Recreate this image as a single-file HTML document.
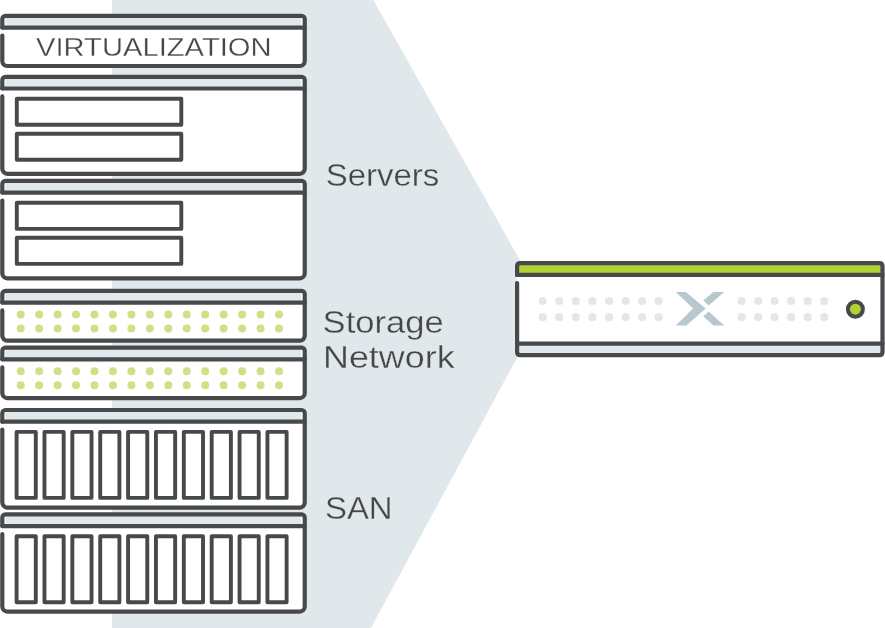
<!DOCTYPE html>
<html><head><meta charset="utf-8"><title>Infrastructure</title>
<style>html,body{margin:0;padding:0;background:#fff}body{width:885px;height:628px;overflow:hidden}svg{display:block}text{font-family:"Liberation Sans",sans-serif;fill:#454648}.s{fill:none;stroke:#48494b;stroke-width:4.2;stroke-linecap:round;stroke-linejoin:round}.i{stroke-width:3.9}</style></head><body>
<svg style="will-change:transform" width="885" height="628" viewBox="0 0 885 628">
<rect width="885" height="628" fill="#fff"/>
<polygon points="112,0 373.4,0 520,260.3 520,352.2 371,628 112,628" fill="#e1e8ec"/>
<rect x="2.3" y="15.9" width="302.4" height="50.1" rx="3.2" fill="#fff"/>
<rect x="5.5" y="16.9" width="295.6" height="10.7" fill="#e1e8ec"/>
<path class="s" d="M2.30 27.60 V19.10 A3.2 3.2 0 0 1 5.50 15.90 H301.55 A3.2 3.2 0 0 1 304.75 19.10 V61.00 A5.0 5.0 0 0 1 299.75 66.00 H7.30 A5.0 5.0 0 0 1 2.30 61.00 V35.50"/>
<path class="s" d="M2.3 27.6 H304.8"/>
<text x="36" y="56.4" font-size="26" textLength="235.6" lengthAdjust="spacingAndGlyphs" stroke="#fff" stroke-width="0.3">VIRTUALIZATION</text>
<rect x="2.3" y="76.8" width="302.4" height="97.0" rx="3.2" fill="#fff"/>
<rect x="5.5" y="77.8" width="295.6" height="10.7" fill="#e1e8ec"/>
<path class="s" d="M2.30 88.50 V80.00 A3.2 3.2 0 0 1 5.50 76.80 H301.55 A3.2 3.2 0 0 1 304.75 80.00 V168.80 A5.0 5.0 0 0 1 299.75 173.80 H7.30 A5.0 5.0 0 0 1 2.30 168.80 V96.40"/>
<path class="s" d="M2.3 88.5 H304.8"/>
<rect class="s i" x="16.8" y="98.7" width="164.5" height="26.1"/>
<rect class="s i" x="16.8" y="133.7" width="164.5" height="26.1"/>
<rect x="2.3" y="180.9" width="302.4" height="97.4" rx="3.2" fill="#fff"/>
<rect x="5.5" y="181.9" width="295.6" height="10.7" fill="#e1e8ec"/>
<path class="s" d="M2.30 192.60 V184.10 A3.2 3.2 0 0 1 5.50 180.90 H301.55 A3.2 3.2 0 0 1 304.75 184.10 V273.30 A5.0 5.0 0 0 1 299.75 278.30 H7.30 A5.0 5.0 0 0 1 2.30 273.30 V200.50"/>
<path class="s" d="M2.3 192.6 H304.8"/>
<rect class="s i" x="16.8" y="202.8" width="164.5" height="26.1"/>
<rect class="s i" x="16.8" y="237.8" width="164.5" height="26.1"/>
<rect x="2.3" y="290.9" width="302.4" height="49.8" rx="3.2" fill="#fff"/>
<rect x="5.5" y="291.9" width="295.6" height="10.7" fill="#e1e8ec"/>
<path class="s" d="M2.30 302.55 V294.05 A3.2 3.2 0 0 1 5.50 290.85 H301.55 A3.2 3.2 0 0 1 304.75 294.05 V335.70 A5.0 5.0 0 0 1 299.75 340.70 H7.30 A5.0 5.0 0 0 1 2.30 335.70 V310.45"/>
<path class="s" d="M2.3 302.6 H304.8"/>
<circle cx="20.70" cy="314.4" r="4" fill="#cfe186"/>
<circle cx="39.15" cy="314.4" r="4" fill="#cfe186"/>
<circle cx="57.60" cy="314.4" r="4" fill="#cfe186"/>
<circle cx="76.05" cy="314.4" r="4" fill="#cfe186"/>
<circle cx="94.50" cy="314.4" r="4" fill="#cfe186"/>
<circle cx="112.95" cy="314.4" r="4" fill="#cfe186"/>
<circle cx="131.40" cy="314.4" r="4" fill="#cfe186"/>
<circle cx="149.85" cy="314.4" r="4" fill="#cfe186"/>
<circle cx="168.30" cy="314.4" r="4" fill="#cfe186"/>
<circle cx="186.75" cy="314.4" r="4" fill="#cfe186"/>
<circle cx="205.20" cy="314.4" r="4" fill="#cfe186"/>
<circle cx="223.65" cy="314.4" r="4" fill="#cfe186"/>
<circle cx="242.10" cy="314.4" r="4" fill="#cfe186"/>
<circle cx="260.55" cy="314.4" r="4" fill="#cfe186"/>
<circle cx="279.00" cy="314.4" r="4" fill="#cfe186"/>
<circle cx="20.70" cy="328.4" r="4" fill="#cfe186"/>
<circle cx="39.15" cy="328.4" r="4" fill="#cfe186"/>
<circle cx="57.60" cy="328.4" r="4" fill="#cfe186"/>
<circle cx="76.05" cy="328.4" r="4" fill="#cfe186"/>
<circle cx="94.50" cy="328.4" r="4" fill="#cfe186"/>
<circle cx="112.95" cy="328.4" r="4" fill="#cfe186"/>
<circle cx="131.40" cy="328.4" r="4" fill="#cfe186"/>
<circle cx="149.85" cy="328.4" r="4" fill="#cfe186"/>
<circle cx="168.30" cy="328.4" r="4" fill="#cfe186"/>
<circle cx="186.75" cy="328.4" r="4" fill="#cfe186"/>
<circle cx="205.20" cy="328.4" r="4" fill="#cfe186"/>
<circle cx="223.65" cy="328.4" r="4" fill="#cfe186"/>
<circle cx="242.10" cy="328.4" r="4" fill="#cfe186"/>
<circle cx="260.55" cy="328.4" r="4" fill="#cfe186"/>
<circle cx="279.00" cy="328.4" r="4" fill="#cfe186"/>
<rect x="2.3" y="347.6" width="302.4" height="50.5" rx="3.2" fill="#fff"/>
<rect x="5.5" y="348.6" width="295.6" height="10.7" fill="#e1e8ec"/>
<path class="s" d="M2.30 359.35 V350.85 A3.2 3.2 0 0 1 5.50 347.65 H301.55 A3.2 3.2 0 0 1 304.75 350.85 V393.10 A5.0 5.0 0 0 1 299.75 398.10 H7.30 A5.0 5.0 0 0 1 2.30 393.10 V367.25"/>
<path class="s" d="M2.3 359.3 H304.8"/>
<circle cx="20.70" cy="371.2" r="4" fill="#cfe186"/>
<circle cx="39.15" cy="371.2" r="4" fill="#cfe186"/>
<circle cx="57.60" cy="371.2" r="4" fill="#cfe186"/>
<circle cx="76.05" cy="371.2" r="4" fill="#cfe186"/>
<circle cx="94.50" cy="371.2" r="4" fill="#cfe186"/>
<circle cx="112.95" cy="371.2" r="4" fill="#cfe186"/>
<circle cx="131.40" cy="371.2" r="4" fill="#cfe186"/>
<circle cx="149.85" cy="371.2" r="4" fill="#cfe186"/>
<circle cx="168.30" cy="371.2" r="4" fill="#cfe186"/>
<circle cx="186.75" cy="371.2" r="4" fill="#cfe186"/>
<circle cx="205.20" cy="371.2" r="4" fill="#cfe186"/>
<circle cx="223.65" cy="371.2" r="4" fill="#cfe186"/>
<circle cx="242.10" cy="371.2" r="4" fill="#cfe186"/>
<circle cx="260.55" cy="371.2" r="4" fill="#cfe186"/>
<circle cx="279.00" cy="371.2" r="4" fill="#cfe186"/>
<circle cx="20.70" cy="385.2" r="4" fill="#cfe186"/>
<circle cx="39.15" cy="385.2" r="4" fill="#cfe186"/>
<circle cx="57.60" cy="385.2" r="4" fill="#cfe186"/>
<circle cx="76.05" cy="385.2" r="4" fill="#cfe186"/>
<circle cx="94.50" cy="385.2" r="4" fill="#cfe186"/>
<circle cx="112.95" cy="385.2" r="4" fill="#cfe186"/>
<circle cx="131.40" cy="385.2" r="4" fill="#cfe186"/>
<circle cx="149.85" cy="385.2" r="4" fill="#cfe186"/>
<circle cx="168.30" cy="385.2" r="4" fill="#cfe186"/>
<circle cx="186.75" cy="385.2" r="4" fill="#cfe186"/>
<circle cx="205.20" cy="385.2" r="4" fill="#cfe186"/>
<circle cx="223.65" cy="385.2" r="4" fill="#cfe186"/>
<circle cx="242.10" cy="385.2" r="4" fill="#cfe186"/>
<circle cx="260.55" cy="385.2" r="4" fill="#cfe186"/>
<circle cx="279.00" cy="385.2" r="4" fill="#cfe186"/>
<rect x="2.3" y="410.0" width="302.4" height="97.6" rx="3.2" fill="#fff"/>
<rect x="5.5" y="411.0" width="295.6" height="10.7" fill="#e1e8ec"/>
<path class="s" d="M2.30 421.70 V413.20 A3.2 3.2 0 0 1 5.50 410.00 H301.55 A3.2 3.2 0 0 1 304.75 413.20 V502.60 A5.0 5.0 0 0 1 299.75 507.60 H7.30 A5.0 5.0 0 0 1 2.30 502.60 V429.60"/>
<path class="s" d="M2.3 421.7 H304.8"/>
<rect class="s i" x="16.60" y="431.9" width="19.2" height="66"/>
<rect class="s i" x="44.47" y="431.9" width="19.2" height="66"/>
<rect class="s i" x="72.34" y="431.9" width="19.2" height="66"/>
<rect class="s i" x="100.21" y="431.9" width="19.2" height="66"/>
<rect class="s i" x="128.08" y="431.9" width="19.2" height="66"/>
<rect class="s i" x="155.95" y="431.9" width="19.2" height="66"/>
<rect class="s i" x="183.82" y="431.9" width="19.2" height="66"/>
<rect class="s i" x="211.69" y="431.9" width="19.2" height="66"/>
<rect class="s i" x="239.56" y="431.9" width="19.2" height="66"/>
<rect class="s i" x="267.43" y="431.9" width="19.2" height="66"/>
<rect x="2.3" y="514.4" width="302.4" height="97.2" rx="3.2" fill="#fff"/>
<rect x="5.5" y="515.4" width="295.6" height="10.7" fill="#e1e8ec"/>
<path class="s" d="M2.30 526.10 V517.60 A3.2 3.2 0 0 1 5.50 514.40 H301.55 A3.2 3.2 0 0 1 304.75 517.60 V606.60 A5.0 5.0 0 0 1 299.75 611.60 H7.30 A5.0 5.0 0 0 1 2.30 606.60 V534.00"/>
<path class="s" d="M2.3 526.1 H304.8"/>
<rect class="s i" x="16.60" y="536.3" width="19.2" height="66"/>
<rect class="s i" x="44.47" y="536.3" width="19.2" height="66"/>
<rect class="s i" x="72.34" y="536.3" width="19.2" height="66"/>
<rect class="s i" x="100.21" y="536.3" width="19.2" height="66"/>
<rect class="s i" x="128.08" y="536.3" width="19.2" height="66"/>
<rect class="s i" x="155.95" y="536.3" width="19.2" height="66"/>
<rect class="s i" x="183.82" y="536.3" width="19.2" height="66"/>
<rect class="s i" x="211.69" y="536.3" width="19.2" height="66"/>
<rect class="s i" x="239.56" y="536.3" width="19.2" height="66"/>
<rect class="s i" x="267.43" y="536.3" width="19.2" height="66"/>
<g stroke="#e1e8ec" stroke-width="0.3">
<text x="325.7" y="185.7" font-size="31" textLength="113.5" lengthAdjust="spacingAndGlyphs">Servers</text>
<text x="322.6" y="333.1" font-size="31" textLength="121" lengthAdjust="spacingAndGlyphs">Storage</text>
<text x="323" y="367.9" font-size="31" textLength="131.6" lengthAdjust="spacingAndGlyphs">Network</text>
<text x="324.9" y="519.4" font-size="31" textLength="67.8" lengthAdjust="spacingAndGlyphs">SAN</text>
</g>
<rect x="517.1" y="263.2" width="365.4" height="91.9" rx="3.2" fill="#fff"/>
<rect x="518.1" y="264.2" width="363.4" height="10.7" fill="#b0d235"/>
<rect x="518.1" y="343.6" width="363.4" height="10.5" fill="#e1e8ec"/>
<path class="s" d="M517.1 274.9 V266.4 Q517.1 263.2 520.3 263.2 H879.3 Q882.5 263.2 882.5 266.4 V351.9 Q882.5 355.1 879.3 355.1 H520.3 Q517.1 355.1 517.1 351.9 V283.1"/>
<path class="s" d="M517.1 274.9 H882.5"/>
<path class="s" d="M517.1 343.6 H882.5"/>
<circle cx="542.70" cy="301.0" r="4.1" fill="#e1e8ec"/>
<circle cx="559.27" cy="301.0" r="4.1" fill="#e1e8ec"/>
<circle cx="575.84" cy="301.0" r="4.1" fill="#e1e8ec"/>
<circle cx="592.41" cy="301.0" r="4.1" fill="#e1e8ec"/>
<circle cx="608.98" cy="301.0" r="4.1" fill="#e1e8ec"/>
<circle cx="625.55" cy="301.0" r="4.1" fill="#e1e8ec"/>
<circle cx="642.12" cy="301.0" r="4.1" fill="#e1e8ec"/>
<circle cx="658.69" cy="301.0" r="4.1" fill="#e1e8ec"/>
<circle cx="741.60" cy="301.0" r="4.1" fill="#e1e8ec"/>
<circle cx="758.12" cy="301.0" r="4.1" fill="#e1e8ec"/>
<circle cx="774.64" cy="301.0" r="4.1" fill="#e1e8ec"/>
<circle cx="791.16" cy="301.0" r="4.1" fill="#e1e8ec"/>
<circle cx="807.68" cy="301.0" r="4.1" fill="#e1e8ec"/>
<circle cx="824.20" cy="301.0" r="4.1" fill="#e1e8ec"/>
<circle cx="542.70" cy="317.2" r="4.1" fill="#e1e8ec"/>
<circle cx="559.27" cy="317.2" r="4.1" fill="#e1e8ec"/>
<circle cx="575.84" cy="317.2" r="4.1" fill="#e1e8ec"/>
<circle cx="592.41" cy="317.2" r="4.1" fill="#e1e8ec"/>
<circle cx="608.98" cy="317.2" r="4.1" fill="#e1e8ec"/>
<circle cx="625.55" cy="317.2" r="4.1" fill="#e1e8ec"/>
<circle cx="642.12" cy="317.2" r="4.1" fill="#e1e8ec"/>
<circle cx="658.69" cy="317.2" r="4.1" fill="#e1e8ec"/>
<circle cx="741.60" cy="317.2" r="4.1" fill="#e1e8ec"/>
<circle cx="758.12" cy="317.2" r="4.1" fill="#e1e8ec"/>
<circle cx="774.64" cy="317.2" r="4.1" fill="#e1e8ec"/>
<circle cx="791.16" cy="317.2" r="4.1" fill="#e1e8ec"/>
<circle cx="807.68" cy="317.2" r="4.1" fill="#e1e8ec"/>
<circle cx="824.20" cy="317.2" r="4.1" fill="#e1e8ec"/>
<polygon points="675.8,291.9 685.8,291.9 705.7,308.5 686.3,325.4 675.8,325.4 693,308.5" fill="#b9c7cf"/>
<polygon points="713.5,291.9 724.2,291.9 708.7,305.6 703.2,300.5" fill="#b9c7cf"/>
<polygon points="708.7,311.5 724.2,325.4 713.5,325.4 703.2,316.3" fill="#b9c7cf"/>
<circle cx="855.4" cy="309.2" r="7.5" fill="#b0d235" stroke="#48494b" stroke-width="4"/>
</svg></body></html>
